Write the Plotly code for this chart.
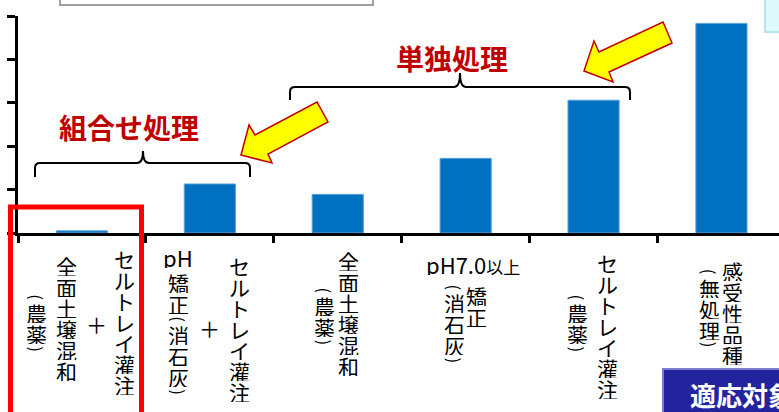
import plotly.graph_objects as go

W, H = 779, 412
L, T = 18, 16
PLOT_W, PLOT_H = W - L, 217

# --- data -------------------------------------------------------------
categories = [
    "全面土壌混和（農薬）＋セルトレイ灌注",
    "pH矯正（消石灰）＋セルトレイ灌注",
    "全面土壌混和（農薬）",
    "pH7.0以上矯正（消石灰）",
    "セルトレイ灌注（農薬）",
    "感受性品種（無処理）",
]
values = [0.5, 11.3, 8.9, 17.2, 30.6, 48.3]

# tick label text, written as vertical columns (tategaki)
tick_columns = [
    ["セルトレイ灌注", "＋", "全面土壌混和", "（農薬）"],
    ["pH", "矯正（消石灰）", "＋", "セルトレイ灌注"],
    ["全面土壌混和", "（農薬）"],
    ["pH7.0以上", "矯正", "（消石灰）"],
    ["セルトレイ灌注", "（農薬）"],
    ["感受性品種", "（無処理）"],
]
group_labels = ["組合せ処理", "単独処理"]
badge_label = "適応対象"

# --- layout helpers ---------------------------------------------------
# column placement: (x offset from category centre, y in px, mode)
#   v = vertical column starting at y, c = single glyph centred at y,
#   h = horizontal line centred at y
column_layout = [
    [(43, 248, "v"), (15, 323, "c"), (-15, 255, "v"), (-45, 292, "v")],
    [(-32, 257, "h"), (-31, 272, "v"), (0, 327, "c"), (30, 255, "v")],
    [(11, 250, "v"), (-13, 285, "v")],
    [(7, 264, "h"), (11, 285, "v"), (-11, 282, "v")],
    [(14, 252, "v"), (-16, 292, "v")],
    [(11, 260, "v"), (-12, 267, "v")],
]

FONT = "Noto Sans CJK JP"
BASE_Y = T + PLOT_H


def px(x):
    return (x - L) / PLOT_W


def py(y):
    return (BASE_Y - y) / PLOT_H


def path(points, close=False):
    s = ""
    for cmd, *xy in points:
        s += cmd
        s += " ".join(f"{px(xy[k]):.5f},{py(xy[k + 1]):.5f}" for k in range(0, len(xy), 2))
        s += " "
    return s + ("Z" if close else "")


fig = go.Figure()
fig.add_trace(go.Bar(
    x=categories, y=values, width=0.4,
    marker=dict(color="#0070C0", line=dict(color="#5AA5DC", width=1)),
))

annotations = []


def char_ann(i, dx, yc, text, size, angle=0, w=None, h=None):
    ann = dict(
        x=i, xref="x", xshift=dx, y=0, yref="paper", yshift=-(yc - BASE_Y),
        text=text, showarrow=False, textangle=angle,
        xanchor="center", yanchor="middle", borderpad=0,
        font=dict(family=FONT, size=size, color="#000000"),
    )
    if w is not None:
        ann["width"] = w
    if h is not None:
        ann["height"] = h
    annotations.append(ann)


for i, (cols, lays) in enumerate(zip(tick_columns, column_layout)):
    for text, (dx, y, mode) in zip(cols, lays):
        if mode == "h":
            latin = "".join(c for c in text if ord(c) < 128)
            rest = text[len(latin):]
            label = latin + (f"<span style='font-size:17px'>{rest}</span>" if rest else "")
            char_ann(i, dx, y, label, 22, h=22)
        elif mode == "c":
            char_ann(i, dx, y, text, 21, w=21, h=21)
        else:
            yy = y
            for ch in text:
                if ch in "（）":
                    pitch = 10
                    char_ann(i, dx, yy + pitch / 2, "(" if ch == "（" else ")", 17, 90,
                             w=10, h=20)
                else:
                    pitch = 21
                    char_ann(i, dx, yy + pitch / 2, ch, 21, w=21, h=21)
                yy += pitch

# group titles
for text, (cx, cy) in zip(group_labels, [(129, 127), (452, 58)]):
    annotations.append(dict(
        x=px(cx), y=py(cy), xref="paper", yref="paper", text=f"<b>{text}</b>",
        showarrow=False, xanchor="center", yanchor="middle",
        font=dict(family=FONT, size=28, color="#C00000"),
    ))

# badge text
annotations.append(dict(
    x=px(688), y=py(394), xref="paper", yref="paper", text=f"<b>{badge_label}</b>",
    showarrow=False, xanchor="left", yanchor="middle",
    font=dict(family=FONT, size=26, color="#FFFFFF"),
))

shapes = []
# braces
brace_line = dict(color="#000000", width=2)
shapes.append(dict(type="path", xref="paper", yref="paper", line=brace_line,
                   fillcolor="rgba(0,0,0,0)",
                   path=path([("M", 35, 177), ("L", 35, 168), ("Q", 35, 163, 40, 163),
                              ("L", 137, 163), ("Q", 143, 163, 143, 151),
                              ("Q", 143, 163, 149, 163), ("L", 245, 163),
                              ("Q", 250, 163, 250, 168), ("L", 250, 177)])))
shapes.append(dict(type="path", xref="paper", yref="paper", line=brace_line,
                   fillcolor="rgba(0,0,0,0)",
                   path=path([("M", 290, 100), ("L", 290, 92), ("Q", 290, 87, 295, 87),
                              ("L", 454, 87), ("Q", 460, 87, 460, 73),
                              ("Q", 460, 87, 466, 87), ("L", 625, 87),
                              ("Q", 630, 87, 630, 92), ("L", 630, 100)])))
# yellow arrows
arrow_style = dict(fillcolor="#FFFF00", line=dict(color="#C00000", width=1.5))
shapes.append(dict(type="path", xref="paper", yref="paper", **arrow_style,
                   path=path([("M", 241, 155), ("L", 249, 125), ("L", 255, 135),
                              ("L", 317, 102), ("L", 328, 122), ("L", 268, 154),
                              ("L", 272, 163)], close=True)))
shapes.append(dict(type="path", xref="paper", yref="paper", **arrow_style,
                   path=path([("M", 584, 71), ("L", 594, 41), ("L", 599, 52),
                              ("L", 663, 22), ("L", 672, 43), ("L", 609, 72),
                              ("L", 613, 82)], close=True)))
# red highlight frame
shapes.append(dict(type="rect", xref="paper", yref="paper",
                   x0=px(10.5), x1=px(141.5), y0=py(207), y1=py(425),
                   line=dict(color="#FF0000", width=5), fillcolor="rgba(0,0,0,0)"))
# boxes at the top edge
shapes.append(dict(type="rect", xref="paper", yref="paper",
                   x0=px(60), x1=px(373), y0=py(5), y1=py(-20),
                   line=dict(color="#A0A0A0", width=2), fillcolor="#FFFFFF"))
shapes.append(dict(type="rect", xref="paper", yref="paper",
                   x0=px(765), x1=px(800), y0=py(32), y1=py(-20),
                   line=dict(color="#B8E4EA", width=2), fillcolor="#DDF9FB"))
# badge box
shapes.append(dict(type="rect", xref="paper", yref="paper", layer="below",
                   x0=px(663), x1=px(800), y0=py(369), y1=py(430),
                   line=dict(color="#7B7BD0", width=2), fillcolor="#2323A0"))

fig.update_layout(
    width=W, height=H,
    margin=dict(l=L, r=0, t=T, b=H - BASE_Y, pad=0),
    paper_bgcolor="#FFFFFF", plot_bgcolor="#FFFFFF",
    showlegend=False, bargap=0.6,
    annotations=annotations, shapes=shapes,
    xaxis=dict(
        type="category", range=[-0.5, -0.5 + PLOT_W / 127.9],
        showticklabels=False, showgrid=False, zeroline=False,
        showline=True, linecolor="#000000", linewidth=3,
        ticks="outside", tickson="boundaries", ticklen=7, tickwidth=2.5,
        tickcolor="#000000",
    ),
    yaxis=dict(
        range=[0, 50], dtick=10, showticklabels=False, showgrid=False,
        zeroline=False, showline=True, linecolor="#000000", linewidth=3,
        ticks="outside", ticklen=8, tickwidth=3, tickcolor="#000000",
    ),
)

fig.write_html("out.html")
